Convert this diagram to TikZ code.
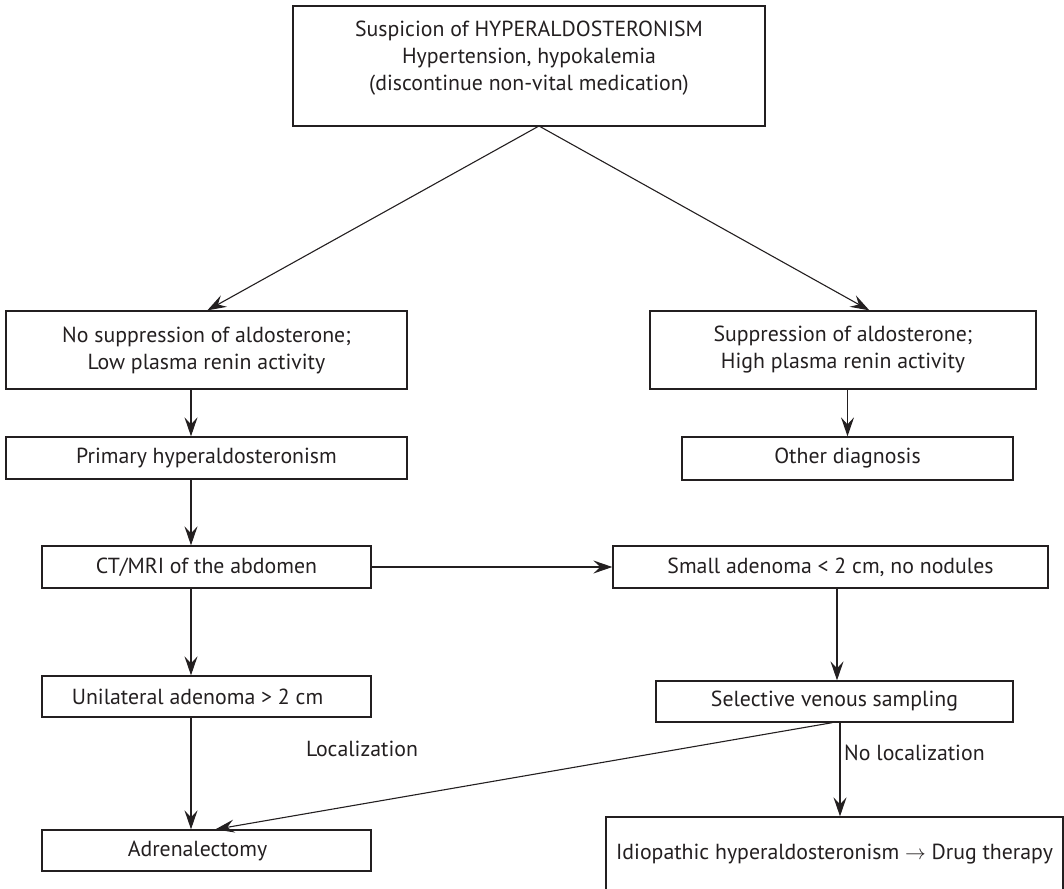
\documentclass[tikz,border=0pt]{standalone}
\usepackage{fontspec}
\setmainfont{PT Sans}
\usetikzlibrary{arrows.meta,calc}
\definecolor{ink}{HTML}{231F20}
\begin{document}
\begin{tikzpicture}[x=1pt,y=-1pt,
  box/.style={draw=ink, line width=1.3pt, inner sep=0pt, align=center, text=ink,
              font=\fontsize{21.8}{27}\selectfont},
  arr/.style={draw=ink, line width=1.1pt, -{Stealth[length=19pt,width=13pt,inset=7pt]}},
  lbl/.style={text=ink, inner sep=0pt, font=\fontsize{21.8}{27}\selectfont}]
\useasboundingbox (0,0) rectangle (1064,888);
\clip (0,0) rectangle (1064,888);

% boxes
\node[box, minimum width=472pt, minimum height=120pt] (top) at (529,66)
  {Suspicion of HYPERALDOSTERONISM\\Hypertension, hypokalemia\\(discontinue non-vital medication)\\[-6pt]};
\node[box, minimum width=401pt, minimum height=78pt] (nosup) at (206.5,350)
  {No suppression of aldosterone;\\Low plasma renin activity};
\node[box, minimum width=386pt, minimum height=78pt] (sup) at (843,350)
  {Suppression of aldosterone;\\High plasma renin activity};
\node[box, minimum width=401pt, minimum height=42pt] (primary) at (206.5,458)
  {Primary hyperaldosteronism};
\node[box, minimum width=331pt, minimum height=43pt] (other) at (847.5,458.5)
  {Other diagnosis};
\node[box, minimum width=329pt, minimum height=42pt] (ct) at (206.5,567)
  {CT/MRI of the abdomen};
\node[box, minimum width=435pt, minimum height=42pt] (small) at (830.5,567)
  {Small adenoma < 2 cm, no nodules};
\node[box, minimum width=329pt, minimum height=41pt] (uni) at (206.5,696.5)
  {\hspace*{-18pt}Unilateral adenoma > 2 cm};
\node[box, minimum width=357pt, minimum height=41pt] (sel) at (834.5,701.5)
  {Selective venous sampling};
\node[box, minimum width=329pt, minimum height=41pt] (adr) at (206.5,850.5)
  {\hspace*{-18pt}Adrenalectomy};
\node[box, minimum width=457pt, minimum height=74pt] (idio) at (834.5,854)
  {Idiopathic hyperaldosteronism $\rightarrow$ Drug therapy};

% labels
\node[lbl] (loc) at (362,749) {Localization};
\node[lbl, anchor=west] (noloc) at (844,753) {No localization};

% helper coordinates
\coordinate (apex) at (539,126);
\coordinate (colL) at (191,0);
\coordinate (colR) at (837,0);
\coordinate (colS) at (840,0);

% connectors
\draw[arr] (apex) -- ($(nosup.north west)+(202,0)$);
\draw[arr] (apex) -- ($(sup.north west)+(220,0)$);
\draw[arr] (nosup.south -| colL) -- (primary.north -| colL);
\draw[arr] (sup.south -| other.north) -- (other.north);
\draw[arr] (primary.south -| colL) -- (ct.north -| colL);
\draw[arr] (ct.east) -- (small.west);
\draw[arr] (small.south -| colR) -- (sel.north -| colR);
\draw[arr] (ct.south -| colL) -- (uni.north -| colL);
\draw[arr] (uni.south -| colL) -- (adr.north -| colL);
\draw[arr] ($(sel.south west)+(177,0)$) -- ($(adr.north west)+(174,0)$);
\draw[arr] (sel.south -| colS) -- (idio.north -| colS);
\end{tikzpicture}
\end{document}
